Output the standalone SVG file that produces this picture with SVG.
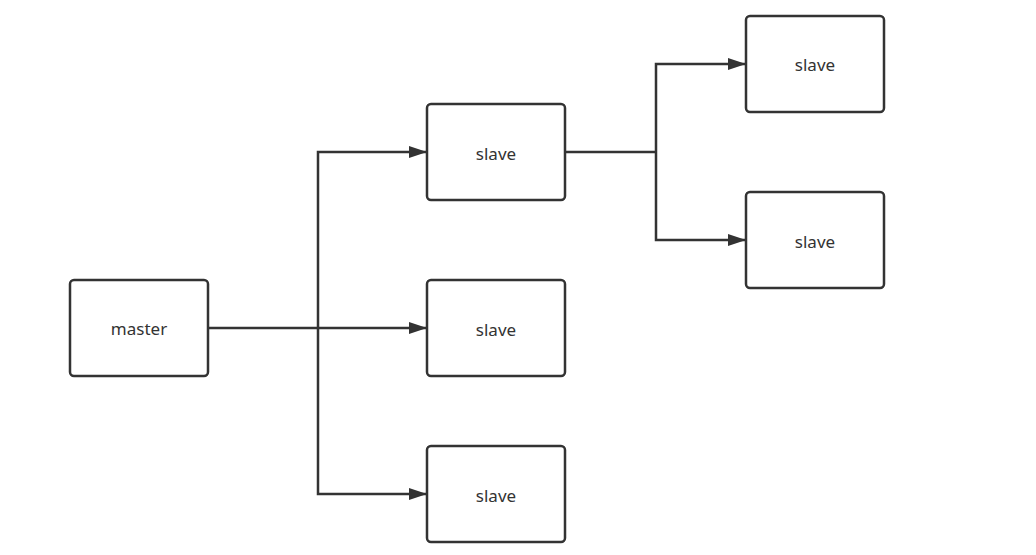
<svg xmlns="http://www.w3.org/2000/svg" width="1036" height="555" viewBox="0 0 1036 555">
<style>
.box{fill:#fff;stroke:#333;stroke-width:2.5}
.lbl{font-family:"Noto Sans","Open Sans",sans-serif;font-size:17px;fill:#333;text-anchor:middle;dominant-baseline:central}
.ln{fill:none;stroke:#333;stroke-width:2.5}
</style>
<defs>
<marker id="ah" viewBox="0 0 18 12" refX="18" refY="6" markerWidth="18" markerHeight="12" markerUnits="userSpaceOnUse" orient="auto">
<path d="M0,0 L18,6 L0,12 Z" fill="#333"/>
</marker>
</defs>
<rect width="1036" height="555" fill="#fff"/>
<g id="connectors">
<path class="ln" d="M208,328 H318"/>
<path class="ln" d="M318,328 V152 H427" marker-end="url(#ah)"/>
<path class="ln" d="M318,328 H427" marker-end="url(#ah)"/>
<path class="ln" d="M318,328 V494 H427" marker-end="url(#ah)"/>
<path class="ln" d="M565,152 H656"/>
<path class="ln" d="M656,152 V64 H746" marker-end="url(#ah)"/>
<path class="ln" d="M656,152 V240 H746" marker-end="url(#ah)"/>
</g>
<g id="master"><rect class="box" x="70" y="280" width="138" height="96" rx="4"/><text class="lbl" x="139" y="328">master</text></g>
<g id="slave1"><rect class="box" x="427" y="104" width="138" height="96" rx="4"/><text class="lbl" x="496" y="153">slave</text></g>
<g id="slave2"><rect class="box" x="427" y="280" width="138" height="96" rx="4"/><text class="lbl" x="496" y="329">slave</text></g>
<g id="slave3"><rect class="box" x="427" y="446" width="138" height="96" rx="4"/><text class="lbl" x="496" y="495">slave</text></g>
<g id="slave4"><rect class="box" x="746" y="16" width="138" height="96" rx="4"/><text class="lbl" x="815" y="64">slave</text></g>
<g id="slave5"><rect class="box" x="746" y="192" width="138" height="96" rx="4"/><text class="lbl" x="815" y="241">slave</text></g>
</svg>
